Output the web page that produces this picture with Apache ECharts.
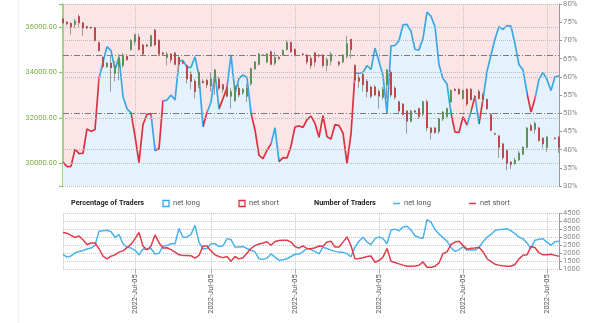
<!DOCTYPE html>
<html><head><meta charset="utf-8">
<script src="https://cdn.jsdelivr.net/npm/echarts@6/dist/echarts.min.js"></script>
<style>html,body{margin:0;padding:0;background:#fff}#c{width:600px;height:323px}</style>
</head><body><div id="c"></div>
<script>
// ---------- data ----------
const categories = Array.from({length: 125}, (_, i) => 'P' + i);
const labelIdx = [18, 37, 58, 79, 100, 121];
const tickLabels = ['2022-Jul-05','2022-Jul-05','2022-Jul-05','2022-Jul-05','2022-Jul-05','2022-Jul-05'];

// % of traders net long (right axis of top chart)
const netLongPct = [36.6,35.3,35.4,40.1,38.9,39,45.7,45,45.5,59.5,
 64,68.3,67.2,61.9,65.5,54.6,51.2,50.1,43.7,36.4,
 46.9,49.7,49.9,39.8,40.2,53.4,53.6,55,53.6,64.3,
 64.5,62.6,62.6,65.5,60.2,46.3,50.2,53,61,51.2,
 54,57,66,55.5,59.6,60.5,59.8,50,45.4,38.4,
 37.5,39.8,41.5,46,36.7,37.8,37.7,41,46.2,46.5,
 46.1,48.2,49.2,47.2,43.4,49.3,43.5,42.9,46.9,46.6,
 44.5,36.2,44.3,61,61,61.2,63.1,62,67.9,64.2,
 60.3,50,68.5,68.6,69.9,74.3,74.4,72.5,67.5,67.4,
 70.5,77.8,76.6,73.8,63.3,59.5,58,50,44.8,44.7,
 49,46.7,50.5,54.7,47,53.8,61.5,66,70.4,73.8,
 73,74.1,73.9,69,63.3,61.9,55.5,50.3,54,59.3,
 61.2,59.2,56.2,60,60.2];

// index ranges where the sentiment line is drawn as "net short" (red)
const netShortSegments = [[0,8.75],[17,21.75],[23,24.75],[34.5,36.25],[38.6,41],[47.1,52.25],
 [53.75,72.75],[97.1,100.75],[101.9,102.9],[104.25,105.25],[116.3,117.9]];

// price candles [open, close, low, high]
const candles = [
 [36345,36173,36100,36400],[36200,36130,36050,36250],[36150,36000,35650,36200],[36100,36250,35950,36350],
 [36450,36170,36000,36550],[36170,35950,35600,36200],[36000,35950,35900,36050],[35980,35950,35900,36000],
 [35950,35400,35350,36000],[35300,34950,34900,35350],[34650,34250,34150,34700],[34250,34400,34200,34450],
 [34400,34200,33150,34750],[33950,34300,33600,34500],[34250,34650,33650,34800],[34300,34750,34200,34850],
 [34700,34550,34500,34800],[35000,35400,34950,35450],[35350,35650,35200,35700],[35550,35000,34950,35700],
 [35200,34800,34750,35250],[35200,35150,35100,35250],[35150,35600,35100,35650],[35850,35200,35150,35900],
 [35400,34800,34700,35450],[34850,34800,34750,34900],[34650,34800,34300,34900],[34800,34550,34400,34850],
 [34850,34350,34300,34900],[34650,34350,34000,34700],[34450,34400,34350,34500],[34300,33700,33500,34350],
 [33900,33600,33250,34050],[33600,33150,32850,33700],[33450,34000,33300,34100],[33600,33550,33500,33700],
 [33650,33450,33300,33700],[33400,33700,33150,34000],[33600,34100,33000,34150],[33700,33300,33200,33800],
 [33450,33250,33100,33500],[33350,32950,32900,33400],[32950,33150,32400,33300],[32750,33400,32700,33450],
 [33300,33000,32900,33500],[33100,33250,33000,33300],[32950,33300,32700,33500],[33500,34150,33400,34200],
 [34150,34450,34100,34500],[34350,34800,34300,34850],[34750,34760,34700,34800],[34450,34800,34400,34850],
 [34900,34350,34300,34950],[34400,34650,34300,34900],[34650,34600,34550,34750],[34750,34950,34700,35000],
 [35000,35300,34950,35400],[35300,34900,34850,35350],[35000,34750,34700,35050],null,
 [34800,34780,34750,34850],[34750,34450,34350,34800],[34600,34300,34150,34750],[34850,34450,34250,34900],
 [34750,34720,34650,34800],[34750,34300,34200,34800],[34300,34550,34050,34650],[34500,34800,34300,34900],
 null,[34450,34350,34250,34500],[34450,34750,34400,34800],[34700,35250,34600,35600],
 [35450,35000,34600,35450],[34300,33650,33550,34350],[33750,33600,33300,34000],[33900,33450,33150,34000],
 [33600,33150,32900,33700],[33350,32950,32850,33400],[33350,33000,32950,33450],[33150,32950,32400,33250],
 [32900,33250,32800,33350],[33450,34100,32850,34150],[34000,33000,32900,34100],[33300,32900,32800,33400],
 [32700,32300,32200,32750],[32600,32150,32100,32650],[32300,31850,31300,32300],[31850,32300,31800,32350],
 [32300,32250,32200,32350],[32400,32050,31950,32450],[32150,32700,32050,32750],[32700,31550,31400,32800],
 [31550,31350,31050,31600],[31550,31350,31300,31600],[31400,31950,31300,32000],[31950,32250,31850,32300],
 [32050,32400,32000,32450],[32700,33200,32650,33250],[33250,33200,33150,33300],[33250,33050,33000,33300],
 [32850,33200,32800,33250],[33250,32600,32500,33300],[33250,32800,32750,33300],[32950,32900,32850,33000],
 [33150,32850,32800,33250],[33000,32800,32700,33100],[32800,32400,32350,32850],[32150,31450,31400,32200],
 [31300,31280,31250,31350],[31200,30700,30250,31250],[30850,30250,30150,30900],[30550,30000,29700,30600],
 [30050,29950,29750,30100],[29980,30130,29950,30250],[30150,30450,30100,30550],[30400,30700,30350,30750],
 [30700,31550,30650,31600],[31650,31450,31400,31750],[31500,31750,31300,31850],[31550,31000,30950,31600],
 [31100,30850,30650,31150],[30700,31150,30500,31200],null,[31100,31080,31050,31150],
 [31150,30700,30450,31200]];

// number of traders (bottom chart)
const netLongCount = [1930,1760,1830,2030,2116,2170,2270,2327,2495,3382,
 3410,3440,3350,3000,3171,2600,2370,2327,2200,1900,
 2270,2260,2300,1960,2000,2453,2480,2600,2600,3551,
 3000,3010,3180,3750,2700,2270,2300,2600,2600,2420,
 2470,2917,2850,2390,2390,2420,2300,2190,2090,1652,
 1620,1700,1960,1760,1570,1600,1660,1800,1940,1950,
 2100,2300,2230,2100,1960,2380,2300,2200,2120,2073,
 2060,1980,1780,2400,2750,3000,2700,2538,2917,3023,
 2917,2600,3450,3508,3400,3640,3690,3450,3100,2990,
 2930,4100,3950,3480,3200,2980,2760,2350,2120,2230,
 2400,2200,2220,2200,2360,2720,3000,3180,3420,3480,
 3500,3540,3400,3234,3000,2900,2650,2320,2820,2880,
 2910,2680,2510,2720,2750];
const netShortCount = [3297,3260,3120,2990,3080,2850,2550,2640,2650,2284,
 1820,1650,1820,1900,2073,2150,2350,2560,2917,3300,
 2450,2220,2450,3150,2664,2330,2350,2230,2073,1905,
 1870,1863,1850,1700,1863,2450,2450,2150,1905,1800,
 1730,1800,1500,1800,1650,1720,2010,2300,2480,2580,
 2640,2720,2500,2740,2800,2812,2812,2700,2420,2327,
 2470,2300,2284,2350,2453,2440,2700,2750,2390,2390,
 2700,3023,2470,1652,1680,1720,1800,1830,1440,1546,
 1757,2300,1500,1420,1340,1260,1190,1187,1210,1250,
 1460,1124,1124,1187,1398,1990,2090,2550,2700,2748,
 2495,2260,2320,2327,2380,2100,1660,1480,1320,1260,
 1220,1187,1187,1300,1652,1880,1905,2420,2350,2031,
 1905,1905,1940,1870,1820];

const priceGridLevels = [30000, 32000, 34000, 36000];
const priceTickLevels = [29000, 30000, 32000, 34000, 36000, 37000];
const pctGridLevels = [30, 40, 60, 70, 80];
const pctRefLevels = [50, 66];

// ---------- chart ----------
const BLUE = '#3aa8e6', RED = '#de3040';
const FONT = 'Roboto';
const chart = echarts.init(document.getElementById('c'), null, {renderer: 'canvas'});
const isLabel = (i) => labelIdx.indexOf(i) >= 0;

const option = {
  animation: false,
  textStyle: {fontFamily: FONT},
  grid: [
    {left: 63, right: 41, top: 2, height: 184, show: true, backgroundColor: '#fce5e6', borderWidth: 0},
    {left: 63, right: 41, top: 213.3, height: 56}
  ],
  xAxis: [
    {type: 'category', gridIndex: 0, data: categories, boundaryGap: false,
     axisLine: {show: false}, axisTick: {show: false}, axisLabel: {show: false},
     splitLine: {show: true, interval: (i) => isLabel(i), lineStyle: {type: 'dotted', color: '#c4c4c4'}}},
    {type: 'category', gridIndex: 1, data: categories, boundaryGap: false,
     axisLine: {show: false},
     axisTick: {show: true, interval: (i) => isLabel(i), length: 4, lineStyle: {color: '#aaa'}},
     axisLabel: {show: true, interval: (i) => isLabel(i), rotate: 90, fontSize: 7.5, color: '#555', margin: 5,
       formatter: (v, i) => tickLabels[labelIdx.indexOf(i)] || ''},
     splitLine: {show: true, interval: (i) => isLabel(i) || i === 0, lineStyle: {type: 'dotted', color: '#c4c4c4'}}}
  ],
  yAxis: [
    {type: 'value', gridIndex: 0, position: 'left', min: 29000, max: 37000, interval: 1000,
     axisLine: {show: true, lineStyle: {color: '#8dc665', width: 1.5}},
     axisTick: {show: true, length: 4, customValues: priceTickLevels, lineStyle: {color: '#8dc665', width: 1.2}},
     splitLine: {show: false},
     axisLabel: {fontSize: 7.5, color: '#78ad45', margin: 6,
       formatter: (v) => (v % 2000 === 0 ? v.toFixed(2) : '')}},
    {type: 'value', gridIndex: 0, position: 'right', min: 30, max: 80, interval: 5,
     axisLine: {show: true, lineStyle: {color: '#999'}},
     axisTick: {show: true, length: 3, lineStyle: {color: '#999'}},
     splitLine: {show: false},
     axisLabel: {fontSize: 7.8, color: '#888', margin: 4, formatter: '{value}%'}},
    {type: 'value', gridIndex: 1, position: 'right', min: 1000, max: 4500, interval: 500,
     axisLine: {show: true, lineStyle: {color: '#999'}},
     axisTick: {show: true, length: 3, lineStyle: {color: '#999'}},
     splitLine: {show: true, lineStyle: {type: 'dotted', color: '#c8c8c8'}},
     axisLabel: {fontSize: 7.5, color: '#888', margin: 4, formatter: (v) => String(v)}}
  ],
  visualMap: {
    show: false, type: 'piecewise', seriesIndex: 0, dimension: 0,
    pieces: netShortSegments.map(([a, b]) => ({gte: a, lte: b, color: RED})),
    outOfRange: {color: BLUE}
  },
  series: [
    {type: 'line', name: 'pct', xAxisIndex: 0, yAxisIndex: 1, data: netLongPct, z: 2,
     showSymbol: false, lineStyle: {width: 1.7},
     areaStyle: {color: '#e3f2fc', opacity: 1, origin: 'start'},
     markLine: {silent: true, symbol: 'none', label: {show: false}, animation: false,
       data: pctGridLevels.map(v => ({yAxis: v, lineStyle: {type: 'dotted', color: '#bdbdbd', width: 1}}))
         .concat(pctRefLevels.map(v => ({yAxis: v, lineStyle: {type: [6, 2, 1, 2], color: '#7a7a7a', width: 1}})))}},
    {type: 'candlestick', name: 'wick', xAxisIndex: 0, yAxisIndex: 0, barWidth: 2.4, z: 5,
     data: candles.map(c => c ? c : '-'),
     itemStyle: {color: '#9a9a9a', color0: '#9a9a9a', borderColor: '#9a9a9a', borderColor0: '#9a9a9a', borderWidth: 1},
     markLine: {silent: true, symbol: 'none', label: {show: false}, animation: false, z: 3,
       data: priceGridLevels.map(v => ({yAxis: v, lineStyle: {type: 'dotted', color: '#bdbdbd', width: 1}}))}},
    {type: 'candlestick', name: 'body', xAxisIndex: 0, yAxisIndex: 0, barWidth: 2.4, z: 6,
     data: candles.map(c => c ? [c[0], c[1], Math.min(c[0], c[1]), Math.max(c[0], c[1])] : '-'),
     itemStyle: {color: '#4b9140', color0: '#c9312f', borderColor: '#4b9140', borderColor0: '#c9312f', borderWidth: 0.5}},
    {type: 'line', name: 'net long', xAxisIndex: 1, yAxisIndex: 2, data: netLongCount,
     showSymbol: false, lineStyle: {width: 1.5, color: '#4ab2ec'}, itemStyle: {color: '#4ab2ec'}},
    {type: 'line', name: 'net short', xAxisIndex: 1, yAxisIndex: 2, data: netShortCount,
     showSymbol: false, lineStyle: {width: 1.5, color: '#e03b4b'}, itemStyle: {color: '#e03b4b'}}
  ],
  graphic: [
    {type: 'line', shape: {x1: 18.5, y1: 0, x2: 18.5, y2: 323}, style: {stroke: '#efefef', lineWidth: 1}, silent: true},
    {type: 'text', x: 71, y: 203.5, style: {text: 'Percentage of Traders', font: 'bold 7.3px Roboto', fill: '#222', verticalAlign: 'middle'}},
    {type: 'rect', shape: {x: 163, y: 200.5, width: 6, height: 6}, style: {fill: 'none', stroke: BLUE, lineWidth: 1.3}},
    {type: 'text', x: 173, y: 203.5, style: {text: 'net long', font: '7.5px Roboto', fill: '#555', verticalAlign: 'middle'}},
    {type: 'rect', shape: {x: 239, y: 200.5, width: 6, height: 6}, style: {fill: 'none', stroke: RED, lineWidth: 1.3}},
    {type: 'text', x: 249, y: 203.5, style: {text: 'net short', font: '7.5px Roboto', fill: '#555', verticalAlign: 'middle'}},
    {type: 'text', x: 314, y: 203.5, style: {text: 'Number of Traders', font: 'bold 7.3px Roboto', fill: '#222', verticalAlign: 'middle'}},
    {type: 'line', shape: {x1: 393, y1: 203.5, x2: 400, y2: 203.5}, style: {stroke: '#4ab2ec', lineWidth: 1.5}},
    {type: 'text', x: 404, y: 203.5, style: {text: 'net long', font: '7.5px Roboto', fill: '#555', verticalAlign: 'middle'}},
    {type: 'line', shape: {x1: 469, y1: 203.5, x2: 476, y2: 203.5}, style: {stroke: '#e03b4b', lineWidth: 1.5}},
    {type: 'text', x: 480, y: 203.5, style: {text: 'net short', font: '7.5px Roboto', fill: '#555', verticalAlign: 'middle'}}
  ]
};
chart.setOption(option);
</script>
</body></html>
